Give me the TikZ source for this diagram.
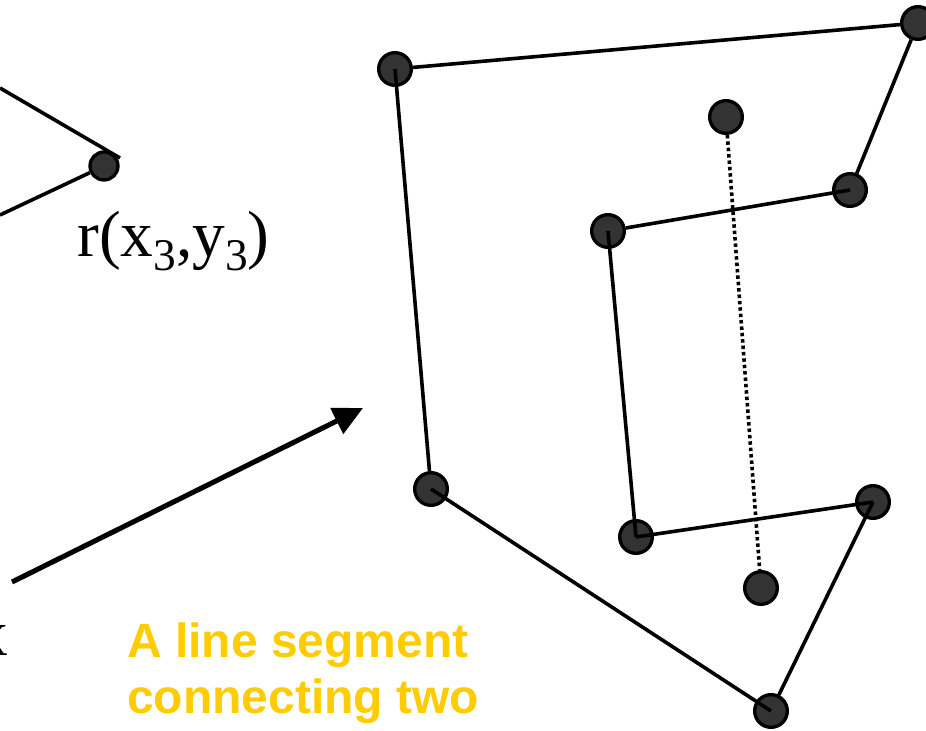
\documentclass[tikz,border=0pt]{standalone}
\usepackage{fontspec}
\setmainfont{Liberation Serif}
\newfontfamily\labelsans{Liberation Sans}
\usetikzlibrary{arrows.meta}
\definecolor{dotfill}{HTML}{333333}
\definecolor{gold}{HTML}{FFCC00}
\tikzset{
  vertex/.style={circle, fill=dotfill, draw=black, line width=2.5pt, minimum size=24.5pt, inner sep=0pt},
  smallvertex/.style={vertex, minimum size=21pt},
  edge/.style={draw=black, line width=2.7pt},
  dottededge/.style={draw=black, line width=2.7pt, dash pattern=on 2.6pt off 2.2pt},
  bigarrow/.style={draw=black, line width=3.8pt, -{Triangle[length=22pt,width=21pt]}},
  serif label/.style={inner sep=0pt, font=\fontsize{49}{56}\selectfont},
  gold text/.style={inner sep=0pt, text=gold, font=\labelsans\bfseries\fontsize{36}{42}\selectfont}
}
\newcommand{\subthree}{\raisebox{-0.2em}{\fontsize{34}{34}\selectfont 3}}
\begin{document}
\begin{tikzpicture}[x=0.75pt, y=-0.75pt]
  \useasboundingbox (0,0) rectangle (926,731);
  \clip (0,0) rectangle (926,731);
  % left fragment
  \node[smallvertex] (L) at (104,166) {};
  \coordinate (la) at (0,88);
  \coordinate (lb) at (0,215);
  \coordinate (lc) at (120,158);
  \draw[edge] (la) -- (lc);
  \draw[edge] (lb) -- (L);
  \node[serif label, anchor=base west] (lab) at (77,257) {r(x\subthree,y\subthree)};
  \node[serif label, anchor=base east] (xcut) at (8,655) {x};
  % arrow
  \coordinate (at) at (12,582);
  \coordinate (ah) at (363,408);
  \draw[bigarrow] (at) -- (ah);
  % yellow text
  \node[gold text, anchor=base west] (t1) at (127,657) {A line segment};
  \node[gold text, anchor=base west] (t2) at (127,713) {connecting two};
  % polygon vertices
  \node[vertex] (P1) at (395,69) {};
  \node[vertex] (P2) at (918,23) {};
  \node[vertex] (P3) at (726,117) {};
  \node[vertex] (P4) at (850,190) {};
  \node[vertex] (P5) at (608,231) {};
  \node[vertex] (P6) at (431,489) {};
  \node[vertex] (P7) at (636,537) {};
  \node[vertex] (P8) at (873,502) {};
  \node[vertex] (P9) at (761,588) {};
  \node[vertex] (P10) at (771,711) {};
  % edges
  \draw[edge] (P1) -- (P2);
  \draw[edge] (P2) -- (P4);
  \draw[edge] (P4.center) -- (P5);
  \draw[edge] (P5.center) -- (P7.center);
  \draw[edge] (P7.center) -- (P8.center);
  \draw[edge] (P8.center) -- (P10);
  \draw[edge] (P10.center) -- (P6.center);
  \draw[edge] (P1.center) -- (P6);
  \draw[dottededge] (P3) -- (P9);
\end{tikzpicture}
\end{document}
